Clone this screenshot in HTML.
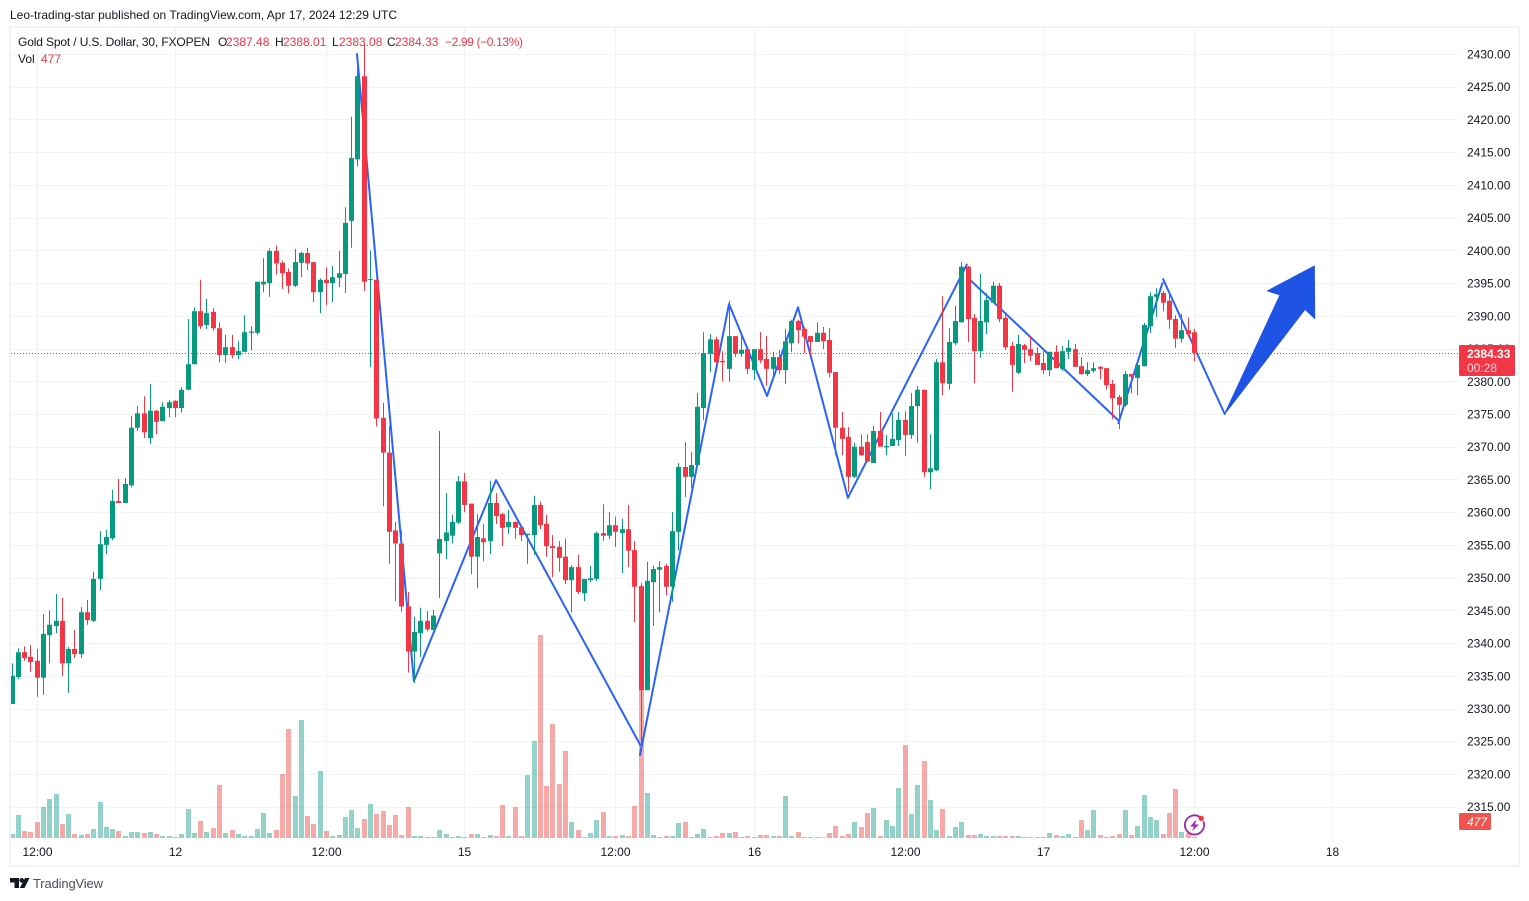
<!DOCTYPE html>
<html lang="en">
<head>
<meta charset="utf-8">
<title>Gold Spot / U.S. Dollar chart</title>
<style>
html,body{margin:0;padding:0;background:#fff;width:1529px;height:901px;overflow:hidden}
svg{display:block}
text{font-family:"Liberation Sans",sans-serif;font-size:12px;fill:#131722}
</style>
</head>
<body>
<svg id="chart" xmlns="http://www.w3.org/2000/svg" width="1529" height="901" viewBox="0 0 1529 901">
  <defs>
    <clipPath id="plot-clip"><rect x="11" y="28" width="1448" height="814"/></clipPath>
  </defs>
  <rect x="0" y="0" width="1529" height="901" fill="#ffffff"/>
  <text x="10" y="19" textLength="387" fill="#2a2e39">Leo-trading-star published on TradingView.com, Apr 17, 2024 12:29 UTC</text>
  <rect x="10" y="27" width="1509" height="839" fill="none" stroke="#f0f3fa" stroke-width="2"/>
  <g id="grid"></g>
  <g clip-path="url(#plot-clip)">
    <g id="volumes"></g>
    <g id="trend"></g>
    <g id="candles"></g>
    <line id="lastLine" stroke="#f23645" stroke-width="1" stroke-dasharray="1 2"/>
    <polygon id="arrow" fill="#1e53e5" stroke="#1e53e5" stroke-width="1" stroke-linejoin="round"/>
  </g>
  <g id="priceAxis"></g>
  <g id="timeAxis"></g>
  <g>
    <rect x="1459" y="345" width="56" height="31" rx="1.5" fill="#f23645"/>
    <text x="1467" y="358" fill="#ffffff" font-weight="bold" style="font-weight:600;fill:#ffffff">2384.33</text>
    <text x="1467" y="372" style="fill:#ffd5d9">00:28</text>
  </g>
  <g>
    <rect x="1459" y="813" width="32" height="17" rx="1.5" fill="#f05350"/>
    <text x="1467" y="826" style="fill:#ffffff;font-style:italic">477</text>
  </g>
  <g>
    <text x="18" y="46" textLength="192" fill="#131722">Gold Spot / U.S. Dollar, 30, FXOPEN</text>
    <text x="218" y="46">O</text>
    <text x="226" y="46" style="fill:#f23645">2387.48</text>
    <text x="275" y="46">H</text>
    <text x="283" y="46" style="fill:#f23645">2388.01</text>
    <text x="332" y="46">L</text>
    <text x="339" y="46" style="fill:#f23645">2383.08</text>
    <text x="387" y="46">C</text>
    <text x="395" y="46" style="fill:#f23645">2384.33</text>
    <text x="445" y="46" textLength="78" style="fill:#f23645">−2.99 (−0.13%)</text>
    <text x="18" y="63">Vol</text>
    <text x="41" y="63" style="fill:#f23645">477</text>
  </g>
  <g fill="none">
    <path d="M1200.5 817.5 A9.6 9.6 0 1 0 1203.6 822" stroke="#9c27b0" stroke-width="1.8" stroke-linecap="round"/>
    <polygon points="1196.5,819.5 1190,826.5 1194,826.5 1192,831 1199,824.5 1195,824.5" fill="#9c27b0"/>
    <circle cx="1201.2" cy="818.4" r="2.7" fill="#f23645"/>
  </g>
  <g>
    <path d="M10 878h9v10h-4.500v-5.500H10zM25 878h4.500L24.500 888H19.800zM21.800 878a2.300 2.300 0 1 1 -0.100 0z" fill="#131722"/>
    <text x="33" y="888" textLength="70" style="font-size:13px;fill:#4a4e59">TradingView</text>
  </g>
</svg>
<script>
const opens=[2330.7,2334.8,2338.6,2337.9,2337.3,2334.7,2341.2,2342.6,2343.4,2336.9,2339.1,2338.3,2344.7,2343.4,2349.8,2355.0,2356.0,2361.7,2361.4,2364.1,2372.9,2375.1,2371.3,2375.5,2373.9,2375.9,2377.0,2375.9,2378.7,2382.6,2390.7,2388.6,2390.6,2388.1,2384.0,2385.2,2384.0,2384.5,2387.4,2387.4,2394.8,2395.0,2399.9,2398.1,2396.7,2394.6,2398.1,2399.6,2398.2,2393.6,2395.5,2395.0,2395.8,2396.4,2404.5,2413.9,2426.6,2395.5,2395.5,2374.4,2369.1,2357.2,2355.2,2345.6,2338.7,2341.5,2343.4,2342.0,2353.7,2355.6,2356.4,2358.4,2364.7,2361.3,2353.2,2356.0,2355.6,2361.4,2359.7,2357.7,2358.5,2357.7,2356.5,2356.5,2361.1,2358.2,2354.8,2354.7,2353.2,2349.6,2351.6,2347.6,2349.6,2349.8,2356.8,2356.4,2358.0,2356.8,2357.4,2354.2,2348.7,2332.8,2349.3,2351.2,2351.8,2348.6,2357.0,2366.9,2365.4,2367.2,2375.9,2384.2,2386.4,2383.1,2381.9,2386.9,2384.2,2384.9,2381.7,2384.9,2383.4,2381.9,2383.7,2381.7,2385.8,2389.2,2388.0,2386.9,2386.0,2387.4,2386.3,2381.4,2372.9,2371.5,2365.4,2370.0,2370.7,2367.5,2372.4,2369.9,2370.1,2371.0,2374.1,2371.8,2376.2,2378.7,2366.1,2366.4,2382.9,2379.6,2385.8,2389.0,2397.5,2389.7,2384.6,2389.0,2392.0,2394.6,2389.7,2385.4,2381.3,2385.5,2384.9,2384.3,2382.8,2381.7,2384.5,2381.9,2384.5,2384.9,2382.3,2381.1,2381.6,2382.2,2382.0,2379.6,2377.6,2376.4,2381.1,2380.5,2382.3,2388.4,2392.9,2393.5,2392.3,2389.5,2386.5,2387.8,2387.48];
const highs=[2336.9,2339.2,2339.5,2339.7,2339.1,2344.4,2345.0,2347.5,2346.9,2339.4,2342.0,2345.5,2346.6,2350.9,2357.1,2357.3,2363.4,2365.1,2365.2,2374.7,2376.2,2377.7,2379.6,2375.6,2376.8,2377.1,2377.1,2379.1,2389.5,2391.3,2395.5,2392.6,2391.2,2389.0,2387.1,2387.1,2386.1,2390.1,2388.4,2395.2,2398.8,2400.3,2400.7,2398.4,2397.2,2400.2,2399.8,2400.4,2398.2,2395.7,2397.4,2397.6,2399.9,2406.6,2420.4,2428.0,2431.4,2400.0,2395.5,2376.7,2373.2,2358.5,2357.2,2347.8,2344.0,2345.4,2344.9,2345.1,2372.4,2362.9,2359.6,2365.5,2366.0,2361.3,2359.7,2358.2,2364.8,2362.9,2359.9,2360.3,2358.6,2357.7,2356.7,2362.5,2361.6,2359.6,2356.5,2355.6,2356.0,2351.9,2353.5,2349.8,2351.8,2357.0,2361.2,2360.0,2359.3,2359.0,2361.1,2355.6,2349.2,2352.4,2351.8,2352.5,2352.1,2360.0,2367.5,2370.7,2369.2,2378.2,2387.5,2387.2,2386.8,2384.6,2392.3,2386.9,2387.2,2384.9,2384.9,2387.5,2386.9,2384.5,2384.8,2388.0,2389.4,2389.4,2388.3,2386.9,2389.0,2388.3,2388.1,2381.4,2375.3,2373.0,2370.6,2371.9,2371.9,2373.2,2375.3,2371.8,2375.1,2375.3,2375.4,2378.2,2379.3,2378.7,2371.9,2383.4,2393.0,2388.1,2391.5,2398.2,2397.6,2390.3,2396.4,2393.5,2395.2,2395.0,2390.3,2386.0,2387.1,2385.7,2386.9,2385.2,2384.6,2384.5,2385.5,2385.4,2386.3,2385.7,2383.7,2382.9,2382.9,2382.3,2382.0,2380.2,2377.9,2381.6,2381.1,2383.2,2388.9,2393.6,2394.2,2393.8,2393.8,2390.1,2390.3,2389.7,2388.01];
const lows=[2330.7,2334.5,2337.3,2335.6,2331.8,2332.1,2336.9,2341.5,2335.0,2332.4,2337.7,2337.7,2342.8,2343.2,2348.1,2353.6,2355.7,2361.4,2361.4,2363.8,2372.4,2371.3,2370.4,2371.9,2373.9,2374.5,2374.5,2375.2,2378.7,2382.6,2388.0,2388.0,2387.8,2382.9,2382.8,2383.5,2383.4,2384.5,2384.7,2387.1,2393.6,2392.9,2396.3,2394.1,2393.4,2394.4,2395.9,2397.0,2392.1,2390.4,2391.6,2392.1,2394.4,2393.5,2400.4,2412.8,2393.8,2382.2,2373.1,2360.9,2352.1,2346.4,2344.8,2335.5,2333.9,2337.9,2341.8,2342.0,2346.9,2352.8,2355.2,2358.2,2360.0,2350.5,2348.4,2352.5,2353.6,2358.2,2354.8,2356.7,2355.9,2355.6,2352.1,2353.5,2357.4,2353.2,2350.1,2350.9,2349.0,2344.7,2347.5,2346.4,2349.3,2349.5,2355.6,2355.9,2354.7,2350.7,2351.6,2343.2,2324.0,2332.8,2342.6,2344.7,2347.3,2346.3,2354.2,2362.3,2363.7,2367.2,2374.1,2381.4,2382.8,2380.0,2379.9,2383.7,2383.7,2381.1,2380.2,2382.8,2379.3,2380.3,2381.1,2379.6,2384.5,2385.8,2384.3,2384.0,2386.0,2384.9,2380.6,2368.7,2368.7,2363.1,2365.2,2368.6,2367.7,2367.5,2370.0,2368.7,2370.1,2370.1,2368.6,2371.2,2370.6,2365.4,2363.5,2366.3,2377.9,2378.7,2385.5,2389.0,2386.0,2379.7,2383.6,2387.2,2392.0,2389.0,2384.8,2378.4,2381.1,2382.8,2383.1,2382.5,2381.1,2380.8,2382.0,2381.6,2383.4,2382.2,2381.0,2380.8,2381.3,2380.3,2378.7,2374.2,2372.7,2376.1,2378.2,2377.9,2382.3,2387.4,2389.8,2390.7,2388.0,2385.1,2385.9,2386.8,2383.08];
const closes=[2335.0,2338.6,2337.7,2337.1,2334.7,2341.4,2342.8,2343.4,2336.9,2339.1,2338.3,2344.7,2343.5,2349.8,2355.1,2356.2,2361.7,2361.4,2364.3,2372.9,2375.1,2372.2,2375.5,2373.8,2376.1,2376.8,2375.9,2378.7,2382.6,2390.7,2388.4,2390.4,2388.1,2384.0,2385.2,2384.0,2384.6,2387.5,2387.6,2395.2,2395.2,2399.9,2398.0,2396.5,2394.6,2398.2,2399.6,2398.0,2393.6,2395.5,2395.0,2395.9,2396.5,2404.2,2414.1,2426.6,2395.2,2395.6,2374.3,2369.1,2357.0,2355.2,2345.6,2338.7,2341.7,2343.4,2342.1,2344.2,2355.9,2356.9,2358.5,2364.7,2361.1,2353.2,2356.2,2355.4,2361.4,2359.4,2357.6,2358.5,2357.6,2356.5,2356.7,2361.1,2358.0,2354.8,2354.5,2353.0,2349.6,2351.6,2347.8,2349.8,2349.9,2356.8,2356.4,2358.0,2357.0,2357.4,2354.1,2348.6,2332.8,2349.5,2351.3,2351.6,2348.6,2357.1,2366.9,2365.4,2367.2,2376.1,2384.3,2386.4,2382.9,2382.9,2386.9,2384.2,2384.8,2381.9,2384.9,2383.2,2381.9,2383.7,2381.7,2386.1,2389.2,2387.8,2386.8,2386.0,2387.4,2386.1,2381.3,2372.9,2371.2,2365.4,2370.0,2368.7,2367.7,2372.4,2370.0,2370.1,2371.2,2374.1,2371.8,2376.2,2378.7,2366.1,2366.7,2382.9,2379.7,2386.0,2389.2,2397.5,2389.5,2384.6,2389.2,2392.4,2394.6,2389.5,2385.2,2382.5,2385.7,2384.8,2383.9,2382.5,2381.7,2384.5,2382.0,2384.6,2385.1,2382.2,2381.1,2381.7,2382.0,2381.9,2379.4,2377.4,2376.4,2381.1,2380.7,2382.5,2388.6,2393.0,2393.3,2392.0,2389.4,2386.5,2387.8,2387.2,2384.33];
const volumes=[1800,10350,3150,2700,7200,13950,17550,19800,6300,10800,1800,1350,1800,4050,16200,4950,4050,3150,900,2700,2700,2250,2700,1800,900,900,450,1800,13050,2250,7650,2700,4500,23850,2250,3600,1800,900,900,4050,11250,2250,3600,28800,49050,18900,53100,9900,6300,30150,3150,900,1350,9450,12600,4500,8550,15300,10800,12150,5850,10350,1350,13950,900,900,450,450,3600,1800,450,900,450,1800,1800,450,1350,900,14850,900,13950,900,28350,43650,91350,23400,51300,24300,39150,7200,3600,450,2250,8100,11700,900,900,1350,900,14400,69000,20250,1350,450,900,900,6750,7200,450,1800,4050,450,900,2250,2250,2700,450,900,450,1350,1350,900,900,18900,900,2700,450,450,450,300,2250,5400,900,1800,7200,4950,11250,13500,900,8100,5400,22500,41850,10800,23850,34650,17100,3600,13050,900,4950,7200,1350,1350,1800,900,900,900,900,900,900,450,450,450,450,2250,1350,900,1800,450,8100,3600,12600,1350,450,900,1800,12600,1350,5400,19350,9450,8100,1800,11250,22050,2700,2250,477];
const priceTicks=[2430,2425,2420,2415,2410,2405,2400,2395,2390,2385,2380,2375,2370,2365,2360,2355,2350,2345,2340,2335,2330,2325,2320,2315];
const timeTickBars=[4,26,50,72,96,118,142,164,188,210];
const timeTickLabels=["12:00","12","12:00","15","12:00","16","12:00","17","12:00","18"];
const lastPrice=2384.33;
const leg1Bars=[54.85,63.9,76.95,99.9];
const leg1Prices=[2430.0,2334.2,2364.9,2324.4];
const leg2Bars=[99.84,113.99,120.03,124.96,132.9,151.8];
const leg2Prices=[2322.9,2391.8,2377.75,2391.3,2362.2,2397.8];
const leg3Bars=[152.3,175.8];
const leg3Prices=[2395.5,2374.1];
const leg4Bars=[175.9,182.9];
const leg4Prices=[2373.6,2395.0];
const leg5Bars=[183.0,192.8];
const leg5Prices=[2395.6,2375.0];
const arrowBars=[192.8,201.6,199.6,207.04,207.1,205.56];
const arrowPrices=[2375.0,2393.2,2393.8,2397.6,2389.6,2391.0];

const NS='http://www.w3.org/2000/svg';
const xAxis=function(i){return 12+6.29*i;};
const yAxis=function(p){return 54+(2430-p)*6.545;};
const volAxis=function(v){return v/450;};
const GREEN='#089981',RED='#f23645';
function make(tag,parent,attrs){
  const el=document.createElementNS(NS,tag);
  for(const k in attrs){el.setAttribute(k,attrs[k]);}
  parent.appendChild(el);
  return el;
}
const grid=document.getElementById('grid');
for(let t=0;t<priceTicks.length;t++){
  const gy=Math.round(yAxis(priceTicks[t]))+0.5;
  const hl=make('line',grid,{x1:11,x2:1459,y1:gy,y2:gy,stroke:'#f0f3fa','stroke-width':1});
  
  
}
for(let t=0;t<timeTickBars.length;t++){
  const gx=Math.floor(xAxis(timeTickBars[t]))+0.5;
  const vl=make('line',grid,{x1:gx,x2:gx,y1:28,y2:842,stroke:'#f0f3fa','stroke-width':1});
  
  
}
const volG=document.getElementById('volumes');
for(let i=0;i<volumes.length;i++){
  const h=volAxis(volumes[i]);
  const vb=make('rect',volG,{x:Math.floor(xAxis(i))-2,y:838-h,width:5,height:h,fill:closes[i]>=opens[i]?'rgba(8,153,129,0.44)':'rgba(239,83,80,0.5)'});
  
  
}
const trendG=document.getElementById('trend');
function drawLeg(bars,prices){
  let pts='';
  for(let k=0;k<bars.length;k++){pts+=xAxis(bars[k]).toFixed(1)+','+yAxis(prices[k]).toFixed(1)+' ';}
  const pl=make('polyline',trendG,{points:pts,fill:'none',stroke:'#2962ff','stroke-width':2,'stroke-linejoin':'round','stroke-linecap':'round'});
  
  
}
drawLeg(leg1Bars,leg1Prices);
drawLeg(leg2Bars,leg2Prices);
drawLeg(leg3Bars,leg3Prices);
drawLeg(leg4Bars,leg4Prices);
drawLeg(leg5Bars,leg5Prices);
const candleG=document.getElementById('candles');
for(let i=0;i<opens.length;i++){
  const col=closes[i]>=opens[i]?GREEN:RED;
  const cx=Math.floor(xAxis(i));
  const wy=yAxis(highs[i]);
  const wick=make('rect',candleG,{x:cx,y:wy,width:1,height:Math.max(1,yAxis(lows[i])-wy),fill:col});
  
  
  const by=yAxis(Math.max(opens[i],closes[i]));
  const bh=Math.max(1,yAxis(Math.min(opens[i],closes[i]))-by);
  const body=make('rect',candleG,{x:cx-2,y:by,width:5,height:bh,fill:col});
  
  
}
const ly=Math.round(yAxis(lastPrice))+0.5;
const lastLine=document.getElementById('lastLine');
lastLine.setAttribute('x1',11);
lastLine.setAttribute('x2',1459);
lastLine.setAttribute('y1',ly);
lastLine.setAttribute('y2',ly);
let arrowPts='';
for(let k=0;k<arrowBars.length;k++){arrowPts+=xAxis(arrowBars[k]).toFixed(1)+','+yAxis(arrowPrices[k]).toFixed(1)+' ';}
document.getElementById('arrow').setAttribute('points',arrowPts);
const priceAxis=document.getElementById('priceAxis');
for(let t=0;t<priceTicks.length;t++){
  const lab=make('text',priceAxis,{x:1467,y:(yAxis(priceTicks[t])+4.5).toFixed(1)});
  
  
  lab.textContent=priceTicks[t].toFixed(2);
}
const timeAxis=document.getElementById('timeAxis');
for(let t=0;t<timeTickBars.length;t++){
  const lab=make('text',timeAxis,{x:Math.floor(xAxis(timeTickBars[t]))+0.5,y:856,'text-anchor':'middle'});
  
  
  lab.textContent=timeTickLabels[t];
}
</script>
</body>
</html>
